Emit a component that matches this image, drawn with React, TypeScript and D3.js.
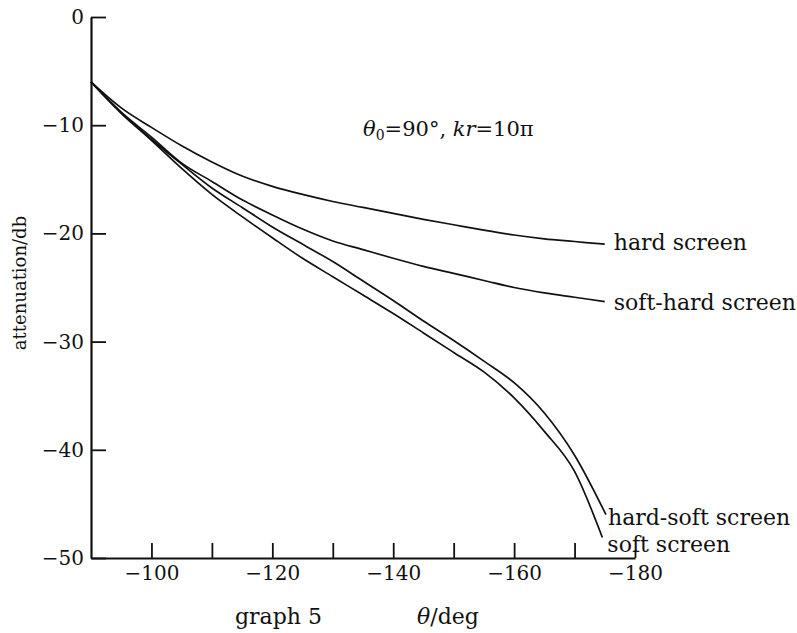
import React, { useEffect, useRef } from "react";
import * as d3 from "d3";

// angle (deg) of the sample points shared by all four curves
const angles = [-90, -95, -100, -105, -110, -115, -120, -125, -130, -135, -140, -145, -150, -155, -160, -165, -170];

// attenuation in db, one value per angle
const hardScreen = [-6, -8.4, -10.2, -11.9, -13.4, -14.7, -15.65, -16.4, -17.05, -17.6, -18.15, -18.7, -19.2, -19.7, -20.15, -20.5, -20.75];
const softHardScreen = [-6, -8.8, -11.1, -13.5, -15.2, -16.9, -18.3, -19.6, -20.7, -21.5, -22.3, -23.05, -23.7, -24.35, -25.0, -25.5, -25.9];
const hardSoftScreen = [-6, -8.85, -11.3, -13.6, -15.8, -17.6, -19.4, -21.0, -22.6, -24.4, -26.2, -28.1, -29.9, -31.8, -33.8, -36.6, -40.5];
const softScreen = [-6, -8.9, -11.4, -14.0, -16.4, -18.45, -20.4, -22.3, -24.0, -25.7, -27.4, -29.2, -31.0, -32.8, -35.2, -38.3, -42.0];

// where each curve stops, next to its label
const endAngles = [-175, -175, -175.2, -174.6];
const endValues = [-21.0, -26.3, -46.0, -48.1];
const seriesNames = ["hard screen", "soft-hard screen", "hard-soft screen", "soft screen"];

const yTicks = [0, -10, -20, -30, -40, -50];
const xTicks = [-100, -110, -120, -130, -140, -150, -160, -170, -180];

const FONT = "'DejaVu Serif', serif";

const App = () => {
    const svgRef = useRef(null);

    useEffect(() => {
        const svg = d3.select(svgRef.current);
        svg.selectAll("*").remove();

        const x = d3.scaleLinear().domain([-90, -180]).range([91, 635]);
        const y = d3.scaleLinear().domain([0, -50]).range([17, 558]);

        const series = [hardScreen, softHardScreen, hardSoftScreen, softScreen].map((vals, i) => {
            const pts = angles.map((a, j) => [a, vals[j]]);
            pts.push([endAngles[i], endValues[i]]);
            return pts;
        });

        const line = d3.line()
            .x(d => x(d[0]))
            .y(d => y(d[1]))
            .curve(d3.curveMonotoneX);

        // curves
        svg.selectAll(".curve")
            .data(series)
            .enter()
            .append("path")
            .attr("class", "curve")
            .attr("d", d => line(d))
            .attr("fill", "none")
            .attr("stroke", "#111")
            .attr("stroke-width", 1.7);

        // curve labels
        const labelOffsets = [[9, 6], [9, 8], [2, 10], [5, 15]];
        seriesNames.forEach((name, i) => {
            svg.append("text")
                .attr("x", x(endAngles[i]) + labelOffsets[i][0])
                .attr("y", y(endValues[i]) + labelOffsets[i][1])
                .attr("font-family", FONT)
                .attr("font-size", 22)
                .attr("fill", "#111")
                .text(name);
        });

        // Y axis
        const yAxis = svg.append("g")
            .attr("transform", `translate(${x(-90)},0)`)
            .call(d3.axisLeft(y)
                .tickValues(yTicks)
                .tickSize(-15)
                .tickSizeOuter(0)
                .tickPadding(7)
                .tickFormat(d => d === 0 ? "0" : "\u2212" + Math.abs(d)));
        yAxis.select(".domain").attr("stroke", "#111").attr("stroke-width", 2.2);
        yAxis.selectAll(".tick line").attr("stroke", "#111").attr("stroke-width", 1.8);
        yAxis.selectAll(".tick text")
            .attr("font-family", FONT)
            .attr("font-size", 20)
            .attr("fill", "#111");

        // X axis
        const xAxis = svg.append("g")
            .attr("transform", `translate(0,${y(-50)})`)
            .call(d3.axisBottom(x)
                .tickValues(xTicks)
                .tickSize(-15)
                .tickSizeOuter(0)
                .tickPadding(8)
                .tickFormat(d => d % 20 === 0 ? "\u2212" + Math.abs(d) : ""));
        xAxis.select(".domain").attr("stroke", "#111").attr("stroke-width", 2.2);
        xAxis.selectAll(".tick line")
            .attr("stroke", "#111")
            .attr("stroke-width", 1.8)
            .attr("y2", d => d === -180 ? -8 : -15);
        xAxis.selectAll(".tick text")
            .attr("font-family", FONT)
            .attr("font-size", 20)
            .attr("fill", "#111");

        // y axis title
        svg.append("text")
            .attr("transform", `translate(26,283)rotate(-90)`)
            .attr("text-anchor", "middle")
            .attr("font-family", FONT)
            .attr("font-size", 18)
            .attr("fill", "#111")
            .text("attenuation/db");

        // caption and x title
        svg.append("text")
            .attr("x", 235)
            .attr("y", 624)
            .attr("font-family", FONT)
            .attr("font-size", 22)
            .attr("fill", "#111")
            .text("graph 5");

        const xt = svg.append("text")
            .attr("x", 417)
            .attr("y", 624)
            .attr("font-family", FONT)
            .attr("font-size", 22)
            .attr("fill", "#111");
        xt.append("tspan").attr("font-style", "italic").text("\u03b8");
        xt.append("tspan").text("/deg");

        // parameters
        const t = svg.append("text")
            .attr("x", 363)
            .attr("y", 136)
            .attr("font-family", FONT)
            .attr("font-size", 21)
            .attr("fill", "#111");
        t.append("tspan").attr("font-style", "italic").text("\u03b8");
        t.append("tspan").attr("font-size", 14).attr("dy", 4).text("0");
        t.append("tspan").attr("dy", -4).text("=90\u00b0, ");
        t.append("tspan").attr("font-style", "italic").text("kr");
        t.append("tspan").text("=10\u03c0");
    }, []);

    return (
        <svg
            ref={svgRef}
            width={797}
            height={633}
            style={{ position: "absolute", left: 0, top: 0, background: "#fff" }}
        />
    );
};

export default App;
